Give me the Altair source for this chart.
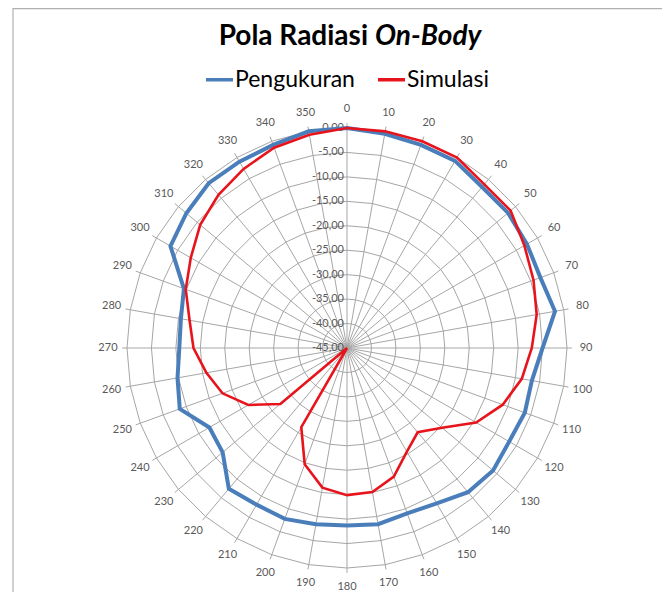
import altair as alt
import pandas as pd

# ---------------- data ----------------
angles = list(range(0, 360, 10))
pengukuran = [0.0, -0.5, -0.8, -0.8, -2.0, -2.0, -2.5, -2.9, -1.8, -5.0,
              -6.6, -6.3, -6.7, -6.0, -6.5, -8.3, -9.0, -8.4, -8.7, -8.4,
              -7.8, -8.0, -7.4, -11.8, -12.5, -8.6, -9.8, -10.7, -10.5, -9.5,
              -3.3, -2.1, -1.0, -1.0, -0.8, 0.0]
simulasi = [0.0, 0.0, 0.0, 0.0, -1.3, -1.3, -3.1, -4.4, -5.6, -7.2,
            -8.7, -11.1, -14.5, -19.6, -22.5, -20.5, -17.0, -15.1, -14.9, -16.0,
            -19.7, -26.3, -45.0, -27.2, -21.7, -17.9, -15.8, -13.6, -12.3, -9.9,
            -8.1, -5.8, -4.1, -2.7, -1.4, -0.7]
series_names = ["Pengukuran", "Simulasi"]
series_colors = ["#4A7EBB", "#E8141C"]
ring_levels = [0, -5, -10, -15, -20, -25, -30, -35, -40, -45]
ring_labels = ["0,00", "-5,00", "-10,00", "-15,00", "-20,00", "-25,00",
               "-30,00", "-35,00", "-40,00", "-45,00"]
angle_labels = [str(a) for a in angles]

R_MIN = -45  # centre of the radar
FONT = "Lato"
GRID = "#A6A6A6"

lines_df = pd.DataFrame({
    "angle": angles * 2,
    "value": pengukuran + simulasi,
    "series": [series_names[0]] * len(angles) + [series_names[1]] * len(angles),
})
rings_df = pd.DataFrame([(lv, a) for lv in ring_levels for a in angles],
                        columns=["level", "angle"])
spokes_df = pd.DataFrame({"angle": angles, "label": angle_labels})
ticks_df = pd.DataFrame({"level": ring_levels, "label": ring_labels})

X = alt.Scale(domain=[-45, 45], nice=False, zero=False)
Y = alt.Scale(domain=[-45, 45], nice=False, zero=False)

def polar(r_expr):
    return dict(
        px=f"({r_expr}) * sin(datum.angle * PI / 180)",
        py=f"({r_expr}) * cos(datum.angle * PI / 180)",
    )

# grid rings (Excel radar style: polygons through the category spokes)
rings = alt.Chart(rings_df).transform_calculate(
    **polar(f"datum.level - ({R_MIN})")
).mark_line(interpolate="linear-closed", stroke=GRID, strokeWidth=1).encode(
    x=alt.X("px:Q", scale=X, axis=None),
    y=alt.Y("py:Q", scale=Y, axis=None),
    detail="level:N",
    order="angle:Q",
)

# spokes
spokes = alt.Chart(spokes_df).transform_calculate(
    **polar("46"), zero="0"
).mark_rule(stroke=GRID, strokeWidth=1).encode(
    x=alt.X("zero:Q", scale=X, axis=None),
    y=alt.Y("zero:Q", scale=Y, axis=None),
    x2="px:Q",
    y2="py:Q",
)

# angle labels
angle_text = alt.Chart(spokes_df).transform_calculate(
    **polar("48.9")
).mark_text(font=FONT, fontSize=11, color="#595959", align="center",
            baseline="middle").encode(
    x=alt.X("px:Q", scale=X, axis=None),
    y=alt.Y("py:Q", scale=Y, axis=None),
    text="label:N",
)

# radial value labels along the 0 degree spoke
tick_text = alt.Chart(ticks_df).transform_calculate(
    zero="0", r=f"datum.level - ({R_MIN})"
).mark_text(font=FONT, fontSize=11, color="#595959", align="right",
            baseline="middle", dx=-3).encode(
    x=alt.X("zero:Q", scale=X, axis=None),
    y=alt.Y("r:Q", scale=Y, axis=None),
    text="label:N",
)

# data lines
data_lines = alt.Chart(lines_df).transform_calculate(
    **polar(f"datum.value - ({R_MIN})")
).mark_line(interpolate="linear-closed").encode(
    x=alt.X("px:Q", scale=X, axis=None),
    y=alt.Y("py:Q", scale=Y, axis=None),
    color=alt.Color(
        "series:N",
        scale=alt.Scale(domain=series_names, range=series_colors),
        legend=alt.Legend(
            title=None, orient="none", direction="horizontal",
            legendX=77, legendY=-64, symbolType="stroke",
            symbolSize=729, symbolStrokeWidth=3.5, labelFont=FONT,
            labelFontSize=23, labelColor="#000000", labelOffset=0,
            columnPadding=16, padding=0, labelLimit=300,
        ),
    ),
    strokeWidth=alt.condition(alt.datum.series == series_names[0],
                              alt.value(4), alt.value(2.6)),
    order="angle:Q",
)

# title (two styles)
t1 = alt.Chart(pd.DataFrame({"t": ["Pola Radiasi"]})).mark_text(
    font=FONT, fontSize=28, fontWeight="bold", align="right",
    baseline="alphabetic", color="#000000"
).encode(text="t:N", x=alt.value(241), y=alt.value(-83))
t2 = alt.Chart(pd.DataFrame({"t": ["On-Body"]})).mark_text(
    font=FONT, fontSize=28, fontWeight="bold", fontStyle="italic",
    align="left", baseline="alphabetic", color="#000000"
).encode(text="t:N", x=alt.value(248), y=alt.value(-83))

# chart frame (left and top edge visible in the crop)
frame_left = alt.Chart(pd.DataFrame({"k": [0]})).mark_rule(
    stroke="#B0B0B0", strokeWidth=1.2
).encode(x=alt.value(-114), y=alt.value(-120), y2=alt.value(470))
frame_top = alt.Chart(pd.DataFrame({"k": [0]})).mark_rule(
    stroke="#B0B0B0", strokeWidth=1.2
).encode(x=alt.value(-114), x2=alt.value(540), y=alt.value(-119.4))

chart = alt.layer(
    frame_left, frame_top, rings, spokes, angle_text, tick_text, data_lines, t1, t2
).properties(
    width=440, height=440,
    autosize=alt.AutoSizeParams(type="none"),
    padding={"left": 119, "top": 120, "right": 95, "bottom": 24},
).configure_view(stroke=None)

chart.save("out.html", embed_options={"renderer": "svg", "actions": False})
